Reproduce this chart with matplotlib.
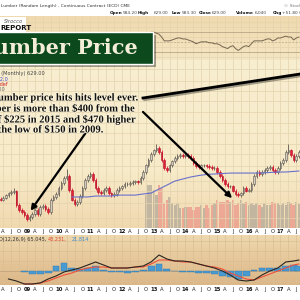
import numpy as np
import pandas as pd
import matplotlib
matplotlib.use("Agg")
import matplotlib.pyplot as plt
from matplotlib.colors import to_rgb
from matplotlib.lines import Line2D
from matplotlib.patches import Rectangle, FancyArrowPatch
import matplotlib.patheffects as pe

W = H = 300  # figure size in px

# monthly lumber bars, Mar 2008 .. Aug 2017
months = pd.date_range("2008-03-01", periods=114, freq="MS")
close = [211, 219, 231, 240, 245, 250, 192, 174, 168, 159,
         147, 153, 162, 174, 162, 185, 188, 178, 168, 211,
         223, 236, 264, 290, 319, 331, 254, 211, 195, 203,
         227, 264, 307, 331, 344, 307, 264, 245, 240, 254,
         264, 240, 231, 236, 254, 264, 274, 285, 285, 290,
         296, 301, 296, 319, 357, 407, 448, 501, 540, 561,
         520, 448, 385, 371, 407, 439, 465, 483, 492, 483,
         492, 483, 465, 423, 400, 392, 407, 407, 400, 392,
         385, 385, 357, 331, 307, 285, 274, 274, 250, 236,
         231, 240, 264, 250, 254, 285, 331, 357, 344, 357,
         371, 385, 392, 371, 357, 385, 423, 448, 520, 540,
         492, 448, 483, 520]
high = [222, 226, 238, 247, 252, 262, 255, 198, 180, 173,
        164, 158, 167, 179, 180, 191, 194, 194, 183, 217,
        230, 243, 272, 299, 329, 380, 341, 262, 217, 209,
        234, 272, 316, 341, 355, 354, 316, 272, 252, 262,
        272, 272, 247, 243, 262, 272, 282, 294, 294, 299,
        305, 310, 310, 329, 368, 419, 461, 516, 556, 600,
        578, 536, 461, 397, 419, 452, 479, 497, 507, 507,
        507, 507, 497, 479, 436, 412, 419, 419, 419, 412,
        404, 397, 397, 368, 341, 316, 294, 282, 282, 258,
        243, 247, 272, 272, 262, 294, 341, 368, 368, 368,
        382, 397, 404, 404, 382, 397, 436, 461, 536, 600,
        556, 507, 497, 536]
low = [205, 205, 213, 224, 233, 238, 186, 169, 163, 154,
       143, 142, 148, 157, 157, 157, 179, 172, 163, 163,
       205, 216, 229, 256, 281, 309, 246, 205, 189, 189,
       197, 220, 256, 298, 321, 298, 256, 238, 233, 233,
       246, 233, 224, 224, 229, 246, 256, 266, 276, 276,
       281, 287, 287, 287, 309, 346, 395, 435, 486, 524,
       504, 435, 373, 360, 360, 395, 426, 451, 469, 469,
       469, 469, 451, 410, 388, 380, 380, 395, 388, 380,
       373, 373, 346, 321, 298, 276, 266, 266, 243, 229,
       224, 224, 233, 243, 243, 246, 276, 321, 334, 334,
       346, 360, 373, 360, 346, 346, 373, 410, 435, 504,
       477, 435, 435, 469]
first_open = 215

# volume (thousand contracts), from month 55 on
vol_start = 55
volume = [4.95, 6.45, 6.45, 5.7, 4.95, 6.45, 6.0, 3.75, 4.2, 4.65,
          3.75, 3.45, 3.75, 3.0, 3.0, 3.15, 3.15, 3.15, 2.7, 3.15,
          3.15, 3.45, 3.0, 3.45, 3.0, 3.45, 3.75, 4.2, 3.9, 3.9,
          3.9, 4.2, 3.9, 4.2, 3.45, 3.75, 4.2, 3.75, 3.9, 3.45,
          3.75, 3.45, 3.75, 3.45, 3.15, 3.75, 3.45, 3.45, 3.9, 3.75,
          3.75, 3.45, 3.75, 3.45, 3.9, 3.75, 3.45, 3.9, 3.6]

# moving average, read every quarter
ma_month = list(range(27, 112, 3)) + [113]
ma_value = [223, 223, 223, 227, 227, 227, 231, 231, 231, 236,
            240, 259, 279, 301, 313, 325, 334, 341, 344, 347,
            350, 350, 350, 350, 350, 354, 357, 357, 361, 364]

# RSI (visible part right of the banner)
rsi_start = 57
rsi = [70.0, 70.0, 68.1, 66.2, 60.5, 52.9, 52.9, 52.9, 54.8, 56.7,
       58.6, 58.6, 56.7, 56.7, 54.8, 52.9, 51.0, 47.1, 49.0, 51.0,
       51.0, 51.0, 49.0, 49.0, 47.1, 47.1, 45.2, 41.4, 39.5, 37.6,
       41.4, 43.3, 37.6, 33.8, 37.6, 41.4, 43.3, 41.4, 47.1, 52.9,
       52.9, 52.9, 52.9, 54.8, 56.7, 56.7, 52.9, 54.8, 58.6, 58.6,
       60.5, 62.4, 60.5, 60.5, 54.8, 58.6, 60.5]

# MACD(12,26,9), read every quarter
macd_month = list(range(3, 112, 3)) + [113]
macd = [-48, -60, -78, -78, -72, -48, -30, -6, 6, 18,
        36, 54, 36, 18, 18, 18, 24, 30, 54, 96,
        72, 60, 60, 54, 42, 30, 18, 0, -24, -54,
        -60, -54, -24, 0, 18, 54, 60, 66]
sig_month = list(range(9, 112, 3)) + [113]
signal = [-78, -78, -72, -60, -42, -24, -12, 6, 18, 24,
          24, 18, 18, 18, 24, 24, 42, 66, 66, 60,
          54, 54, 42, 30, 24, 12, -12, -30, -48, -54,
          -36, -18, 0, 18, 36, 42]
hist = [-6, -18, -18, -12, 30, 48, 18, 12, 18, 30,
        6, -6, -6, -12, -6, 6, 30, 42, 12, 0,
        -6, -6, -12, -12, -18, -30, -36, -48, -30, 6,
        18, 18, 18, 30, 36, 30]

note_lines = ["The lumber price hits hits level ever.",
              r"Lumber is more than \$400 from the",
              r"low of \$225 in 2015 and \$470 higher",
              r"than the low of \$150 in 2009."]

UP_FILL, UP_EDGE = "#d3ccbf", "#5e5850"
DN_FILL, DN_EDGE = "#e3203a", "#b01028"
GRID = "#e4d3ae"
XLIM = (-0.6 / 2.64, (W - 0.6) / 2.64)

fig = plt.figure(figsize=(3, 3), dpi=100)


def grad(stops):
    img = np.ones((H, 1, 3))
    for (y0, c0), (y1, c1) in zip(stops[:-1], stops[1:]):
        if y1 <= y0:
            continue
        a, b = np.array(to_rgb(c0)), np.array(to_rgb(c1))
        for y in range(y0, y1):
            t = (y + 0.5 - y0) / (y1 - y0)
            img[y, 0] = a + (b - a) * t
    return img


bg = fig.add_axes([0, 0, 1, 1])
bg.imshow(grad([(0, "#ffffff"), (16, "#ffffff"), (16, "#f0d9ae"), (60, "#f5e6c3"),
                (60, "#f8eed0"), (170, "#f7ebc9"), (228, "#f1d8ae"),
                (228, "#ffffff"), (235, "#ffffff"), (235, "#efd8ae"),
                (285, "#dcb686"), (285, "#ffffff"), (300, "#ffffff")]),
          extent=[0, 1, 0, 1], aspect="auto", interpolation="bilinear")
bg.axis("off")


def px_axes(y0, y1):
    ax = fig.add_axes([0, 1 - y1 / H, 1, (y1 - y0) / H])
    ax.set_facecolor("none")
    ax.set_xlim(XLIM)
    ax.set_xticks([])
    ax.set_yticks([])
    for s in ax.spines.values():
        s.set_visible(False)
    return ax


quarters = [i for i, m in enumerate(months) if m.month in (1, 4, 7, 10)]

# --- RSI panel
ax_rsi = px_axes(16, 60)
ax_rsi.set_ylim(14.8, 102.4)
for q in quarters:
    ax_rsi.axvline(q, color=GRID, lw=0.5)
for lv in (90, 80, 60, 40, 20):
    ax_rsi.axhline(lv, color=GRID, lw=0.5)
ax_rsi.axhline(70, color="#b9a584", lw=0.6)
ax_rsi.axhline(30, color="#b9a584", lw=0.6)
ax_rsi.axhline(50, color="#b9a584", lw=0.5, ls=(0, (3, 2)))
ax_rsi.plot(range(rsi_start, rsi_start + len(rsi)), rsi, color="#75664e", lw=0.7)

# --- volume (behind the candles)
ax_vol = px_axes(60, 228)
ax_vol.set_ylim(0, 25.2)
opens = [first_open] + close[:-1]
vx = list(range(vol_start, vol_start + len(volume)))
vcol = ["#ec9c8e" if close[k] < opens[k] else "#b7ad9c" for k in vx]
ax_vol.bar(vx, volume, width=0.9, color=vcol, alpha=0.8, lw=0)

# --- price panel
ax = px_axes(60, 228)
ax.set_yscale("log")
ax.set_ylim(124.2, 2953)
ax.set_xlim(XLIM)
ax.minorticks_off()
ax.set_yticks([])
for q in quarters:
    ax.axvline(q, color=GRID, lw=0.5, zorder=0)
for lv in (150, 200, 250, 300, 400, 500, 600, 750, 900, 1100, 1350, 1650, 2000, 2500):
    ax.axhline(lv, color=GRID, lw=0.5, zorder=0)
x = np.arange(len(close))
up = [c >= o for o, c in zip(opens, close)]
bottoms = [min(o, c) for o, c in zip(opens, close)]
heights = [max(abs(c - o), 2) for o, c in zip(opens, close)]
ax.vlines(x, low, high, colors=[UP_EDGE if u else DN_FILL for u in up], lw=0.6, zorder=2)
ax.bar(x, heights, bottom=bottoms, width=0.62,
       color=[UP_FILL if u else DN_FILL for u in up],
       edgecolor=[UP_EDGE if u else DN_EDGE for u in up], lw=0.4, zorder=3)
ax.plot(ma_month, ma_value, color="#6a70cc", lw=0.8, zorder=4)

# --- MACD panel
ax_m = px_axes(235, 285)
ax_m.set_ylim(-84, 216)
for q in quarters:
    ax_m.axvline(q, color="#d9bf94", lw=0.5, zorder=0)
for lv in (-60, 60, 120, 180):
    ax_m.axhline(lv, color="#d9bf94", lw=0.5, zorder=0)
ax_m.axhline(0, color="#b8a07c", lw=0.5, zorder=0)
ax_m.bar(sig_month, hist, width=2.6, color="#4a9ad2", edgecolor="#2f78b0", lw=0.3, zorder=1)
ax_m.plot(sig_month, signal, color="#f0503a", lw=0.8, zorder=2)
ax_m.plot(macd_month, macd, color="#2a2520", lw=0.8, zorder=3)

# --- date strips
for y0, y1 in ((228, 235), (285, 293)):
    axt = px_axes(y0, y1)
    axt.set_ylim(0, 1)
    for q in quarters:
        m = months[q]
        if m.month == 1:
            axt.text(q, 0.45, f"{m.year % 100:02d}", ha="center", va="center",
                     fontsize=3.8, fontweight="bold", color="#111111")
        else:
            axt.text(q, 0.45, "AJO"[(m.month - 4) // 3], ha="center", va="center",
                     fontsize=3.8, color="#222222")


def ftext(xp, yp, s, **kw):
    kw.setdefault("va", "center")
    return fig.text(xp / W, 1 - yp / H, s, **kw)


# header lines
ftext(1, 6, "Lumber (Random Length) - Continuous Contract (ECD) CME", fontsize=3.2, color="#333333")
ftext(284, 6, "© StockCharts.com", fontsize=3.2, color="#777777")
for xp, s, b in [(110, "Open", True), (122.5, "584.20", False), (138, "High", True),
                 (154, "629.00", False), (172, "Low", True), (182, "583.30", False),
                 (199, "Close", True), (212, "629.00", False), (236, "Volume", True),
                 (255, "6,040", False), (273, "Chg", True), (282, "+51.80 (+8.97%)", False)]:
    ftext(xp, 13, s, fontsize=3.1, fontweight="bold" if b else "normal",
          color="#111111" if b else "#444444")

# logo
fig.add_artist(Rectangle((0, 1 - 32 / H), 26 / W, 15 / H, transform=fig.transFigure,
                         facecolor="white", edgecolor="none"))
ftext(4, 21.5, "Sirocco", fontsize=3.8, color="#555555", style="italic")
ftext(0.5, 27.5, "REPORT", fontsize=5, fontweight="bold", color="#111111")

# panel legends
ftext(45, 74, r"\$LUMBER (Monthly) 629.00", ha="right", fontsize=3.6, color="#444444")
ftext(8, 80, "MA(60) 412.0", ha="right", fontsize=3.6, color="#4a4ad0")
ftext(8, 85, "Volume undef", ha="right", fontsize=3.6, color="#d02020")
ftext(5, 89, "Vol 6,040.00", ha="right", fontsize=3.6, color="#666666")
ftext(46, 239.5, "MACD(12,26,9) 65.045,", ha="right", fontsize=3.6, color="#333333")
ftext(48, 239.5, "43.231,", fontsize=3.6, color="#e04030")
ftext(72, 239.5, "21.814", fontsize=3.6, color="#3a8ad0")

# title banner
fig.add_artist(Rectangle((0, 1 - 67 / H), 156 / W, 32 / H, transform=fig.transFigure,
                         facecolor="black", alpha=0.35, edgecolor="none"))
fig.add_artist(Rectangle((-2 / W, 1 - 64 / H), 155 / W, 32 / H, transform=fig.transFigure,
                         facecolor="#0c4a1e", edgecolor="white", lw=1))
ftext(138, 48.5, "Lumber Price", ha="right", fontsize=15, fontweight="bold",
      family="DejaVu Serif", color="#f4eed6")

# note
for yp, xr, s in zip((98, 109, 119.5, 130), (137, 133, 135, 103), note_lines):
    ftext(xr, yp, s, ha="right", fontsize=7.6, fontweight="bold",
          family="Liberation Serif", color="#111111",
          path_effects=[pe.withStroke(linewidth=1.2, foreground="#fbf4dc")])

# arrows
shadow = [pe.SimpleLineShadow(offset=(1.2, -1.2), alpha=0.35), pe.Normal()]
fig.add_artist(Line2D([143 / W, 310 / W], [1 - 98 / H, 1 - 72.5 / H],
                      transform=fig.transFigure, color="black", lw=2, path_effects=shadow))
for (x0, y0), (x1, y1) in [((87, 131), (29, 213)), ((141, 110), (234, 200))]:
    fig.add_artist(FancyArrowPatch((x0 / W, 1 - y0 / H), (x1 / W, 1 - y1 / H),
                                   transform=fig.transFigure, arrowstyle="-|>",
                                   mutation_scale=8, lw=1.6, color="black",
                                   path_effects=[pe.withSimplePatchShadow(offset=(1.2, -1.2), alpha=0.35)]))

fig.savefig("out.png", dpi=100)
